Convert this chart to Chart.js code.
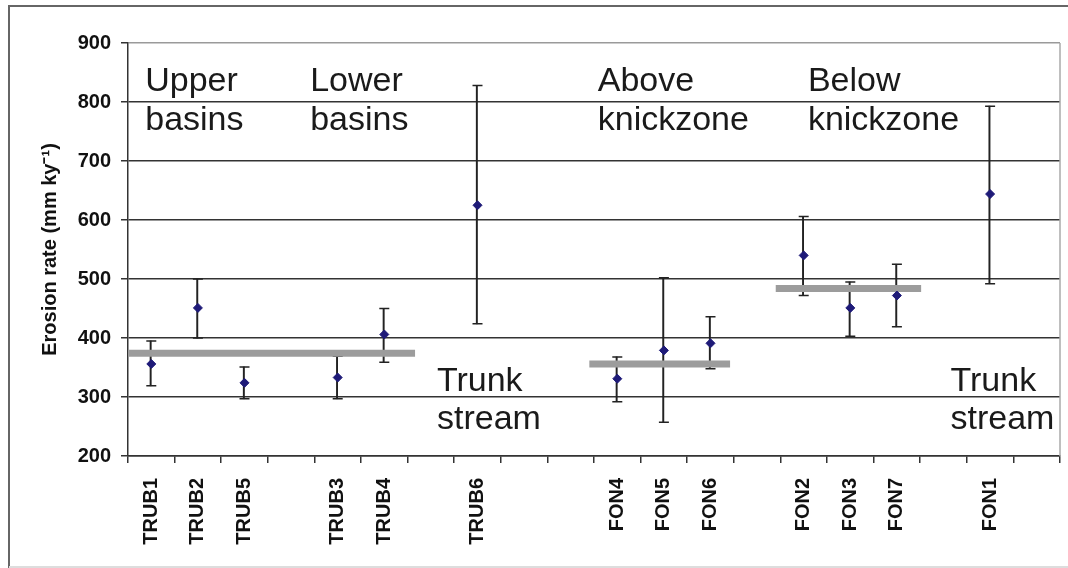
<!DOCTYPE html>
<html>
<head>
<meta charset="utf-8">
<script src="https://cdn.jsdelivr.net/npm/chart.js@4.4.1/dist/chart.umd.min.js"></script>
<style>
  body { margin: 0; background: #fff; }
  #wrap { width: 1068px; height: 568px; position: relative; }
</style>
</head>
<body>
<div id="wrap"><canvas id="erosionChart"></canvas></div>
<script>
// sample sites, blanks keep the gaps between groups
var sites = ['TRUB1', 'TRUB2', 'TRUB5', '', 'TRUB3', 'TRUB4', '', 'TRUB6', '', '',
             'FON4', 'FON5', 'FON6', '', 'FON2', 'FON3', 'FON7', '', 'FON1', ''];
var rate     = [356, 451, 324, null, 333, 406, null, 625, null, null, 331, 379, 391, null, 540, 451, 472, null, 644, null];
var rateLow  = [319, 400, 297, null, 297, 359, null, 424, null, null, 292, 257, 348, null, 472, 403, 419, null, 492, null];
var rateHigh = [395, 500, 351, null, 369, 450, null, 828, null, null, 368, 502, 436, null, 606, 495, 525, null, 793, null];

// trunk stream means, each spans a run of sites (in site-index units)
var trunkMean  = [374, 356, 484];
var trunkFrom  = [-0.5, 9.4, 13.4];
var trunkTo    = [5.66, 12.42, 16.52];

var yTicks = [200, 300, 400, 500, 600, 700, 800, 900];

var FONT = "'Liberation Sans', Arial, sans-serif";

// group captions, x in site-index units, y = value of first baseline
var notes = [
  { lines: ['Upper', 'basins'], x: -0.13, y: 818 },
  { lines: ['Lower', 'basins'], x: 3.41, y: 818 },
  { lines: ['Above', 'knickzone'], x: 9.58, y: 818 },
  { lines: ['Below', 'knickzone'], x: 14.09, y: 818 },
  { lines: ['Trunk', 'stream'], x: 6.13, y: 311 },
  { lines: ['Trunk', 'stream'], x: 17.15, y: 311 }
];

var errorBars = rateLow.map(function (lo, i) {
  return lo == null ? null : [lo, rateHigh[i]];
});

var meanSets = trunkMean.map(function (m, i) {
  return {
    type: 'line',
    xAxisID: 'xl',
    data: [{ x: trunkFrom[i], y: m }, { x: trunkTo[i], y: m }],
    borderColor: '#9c9c9c',
    borderWidth: 7,
    borderCapStyle: 'butt',
    pointRadius: 0,
    order: 1
  };
});

var decor = {
  id: 'decor',
  afterDraw: function (chart) {
    var ctx = chart.ctx;
    var area = chart.chartArea;
    var xl = chart.scales.xl;
    var y = chart.scales.y;
    ctx.save();
    // outer frame
    ctx.strokeStyle = '#666';
    ctx.lineWidth = 2;
    ctx.beginPath();
    ctx.moveTo(9, 570);
    ctx.lineTo(9, 6);
    ctx.lineTo(1070, 6);
    ctx.stroke();
    ctx.strokeStyle = '#ddd';
    ctx.beginPath();
    ctx.moveTo(9, 567);
    ctx.lineTo(1068, 567);
    ctx.stroke();
    // right edge of plot
    ctx.strokeStyle = '#aaa';
    ctx.lineWidth = 1.5;
    ctx.beginPath();
    ctx.moveTo(area.right, area.top);
    ctx.lineTo(area.right, area.bottom);
    ctx.stroke();
    // captions
    ctx.fillStyle = '#1a1a1a';
    ctx.font = '34px ' + FONT;
    ctx.textAlign = 'left';
    ctx.textBaseline = 'alphabetic';
    notes.forEach(function (n) {
      var px = xl.getPixelForValue(n.x);
      var py = y.getPixelForValue(n.y);
      n.lines.forEach(function (t, k) {
        ctx.fillText(t, px, py + k * 38.5);
      });
    });
    ctx.restore();
  }
};

new Chart('erosionChart', {
  type: 'line',
  data: {
    labels: sites,
    datasets: [
      {
        type: 'line',
        data: rate,
        showLine: false,
        pointStyle: 'rectRot',
        pointRadius: 4.5,
        backgroundColor: '#1e1a78',
        borderColor: '#1e1a78',
        order: 0
      }
    ].concat(meanSets).concat([
      {
        type: 'line',
        data: rateHigh,
        showLine: false,
        pointStyle: 'line',
        pointRadius: 5,
        borderWidth: 1.5,
        borderColor: '#222',
        order: 2
      },
      {
        type: 'line',
        data: rateLow,
        showLine: false,
        pointStyle: 'line',
        pointRadius: 5,
        borderWidth: 1.5,
        borderColor: '#222',
        order: 2
      },
      {
        type: 'bar',
        data: errorBars,
        barThickness: 1.3,
        backgroundColor: '#222',
        order: 3
      }
    ])
  },
  options: {
    responsive: true,
    maintainAspectRatio: false,
    animation: false,
    layout: { padding: { top: 43, right: 8, left: 0, bottom: 0 } },
    plugins: { legend: { display: false }, tooltip: { enabled: false } },
    scales: {
      x: {
        type: 'category',
        offset: true,
        grid: { offset: true, drawOnChartArea: false, tickLength: 7, color: '#333', lineWidth: 1.5 },
        border: { color: '#333', width: 1.5 },
        ticks: {
          autoSkip: false, maxRotation: 90, minRotation: 90, padding: 15,
          color: '#111', font: { family: FONT, size: 20, weight: 'bold' }
        },
        afterFit: function (s) {
          s.height = 112;
          s.paddingLeft = 0;
          s.paddingRight = 0;
        }
      },
      xl: { type: 'linear', display: false, min: -0.5, max: 19.5 },
      y: {
        min: 200,
        max: 900,
        afterBuildTicks: function (s) { s.ticks = yTicks.map(function (v) { return { value: v }; }); },
        grid: {
          tickLength: 7,
          lineWidth: 1.5,
          color: function (c) { return c.tick && c.tick.value === 900 ? '#9a9a9a' : '#333'; },
          tickColor: '#333'
        },
        border: { color: '#333', width: 1.5 },
        ticks: { padding: 10, color: '#111', font: { family: FONT, size: 20, weight: 'bold' } },
        title: {
          display: true,
          text: 'Erosion rate (mm ky\u207B\u00B9)',
          color: '#111',
          font: { family: FONT, size: 20, weight: 'bold' },
          padding: { top: 38, bottom: 0 }
        },
        afterFit: function (s) { s.width = 128; }
      }
    }
  },
  plugins: [decor]
});
</script>
</body>
</html>
